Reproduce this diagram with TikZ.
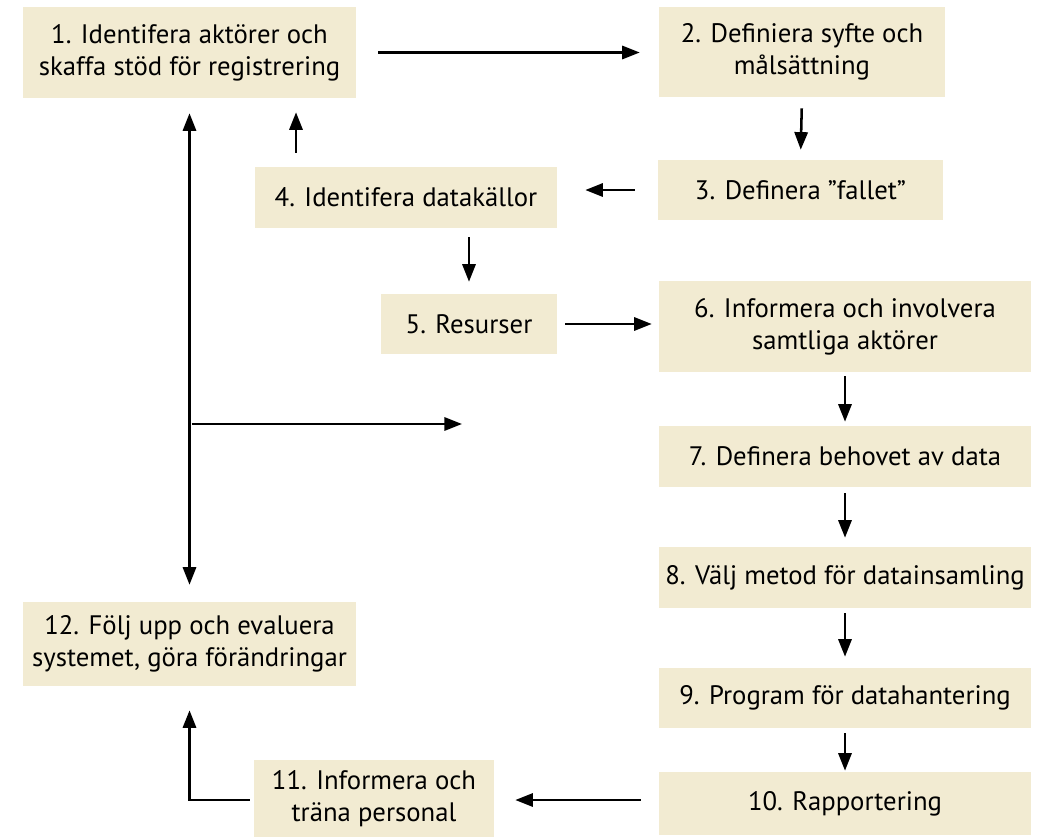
\documentclass[tikz,border=0pt]{standalone}
\usepackage{fontspec}
\setmainfont{PT Sans}
\usetikzlibrary{arrows.meta,calc}
\definecolor{boxfill}{RGB}{242,235,210}

\tikzset{
  box/.style 2 args={fill=boxfill, inner sep=0pt, align=center,
              minimum width=#1*0.025cm, minimum height=#2*0.025cm,
              font=\fontsize{19}{23}\selectfont},
  arr/.style={-{Triangle[length=4.4mm,width=3.3mm]}, line width=1.8pt},
  darr/.style={{Triangle[length=4.4mm,width=3.3mm]}-{Triangle[length=4.4mm,width=3.3mm]}, line width=1.8pt}
}

\begin{document}
\begin{tikzpicture}[x=0.025cm, y=-0.025cm]
  \useasboundingbox (0,0) rectangle (1049,837);

  % left column
  \node[box={333}{91}] (b1) at (189.5,52.5) {1. Identifera aktörer och\\skaffa stöd för registrering};
  \node[box={302}{61}] (b4) at (406,197.5) {4. Identifera datakällor};
  \node[box={176}{60}] (b5) at (469,324) {5. Resurser};
  \node[box={333}{84}] (b12) at (189.5,644) {12. Följ upp och evaluera\\systemet, göra förändringar};
  \node[box={240}{77}] (b11) at (374,798.5) {11. Informera och\\träna personal};

  % right column
  \node[box={286}{90}] (b2) at (802,52) {2. Definiera syfte och\\målsättning};
  \node[box={285}{60}] (b3) at (800.5,190) {3. Definera ”fallet”};
  \node[box={372}{91}] (b6) at (845,326.5) {6. Informera och involvera\\samtliga aktörer};
  \node[box={372}{61}] (b7) at (845,456.5) {7. Definera behovet av data};
  \node[box={372}{61}] (b8) at (845,577.5) {8. Välj metod för datainsamling};
  \node[box={372}{60}] (b9) at (845,698) {9. Program för datahantering};
  \node[box={372}{63}] (b10) at (845,803.5) {10. Rapportering};

  \coordinate (free) at (462,424);

  \draw[arr, shorten <=5.5mm, shorten >=4.75mm] (b1.east) -- (b1.east -| b2.west);
  \draw[arr, shorten <=2.75mm, shorten >=2.5mm] (b2.south) -- (b3.north);
  \draw[arr, shorten <=5.75mm, shorten >=7mm] (b3.west) -- (b3.west -| b4.east);
  \draw[arr, shorten <=3.5mm, shorten >=3.5mm] (b4.north -| 296,0) -- (b1.south -| 296,0);
  \draw[darr, shorten <=3.75mm, shorten >=4.25mm] (b1.south) -- (b12.north);
  \draw[arr, shorten <=0.5mm] (free -| b1.south) -- (free);
  \draw[arr, shorten <=2.25mm, shorten >=3mm] (b5.north |- b4.south) -- (b5.north);
  \draw[arr, shorten <=2mm, shorten >=1.75mm] (b5.east) -- (b5.east -| b6.west);
  \draw[arr, shorten <=1mm, shorten >=1mm] (b6.south) -- (b7.north);
  \draw[arr, shorten <=1.5mm, shorten >=2.25mm] (b7.south) -- (b8.north);
  \draw[arr, shorten <=1.25mm, shorten >=2.75mm] (b8.south) -- (b9.north);
  \draw[arr, shorten <=1.25mm, shorten >=0.25mm] (b9.south) -- (b10.north);
  \draw[arr, shorten <=4.5mm, shorten >=5.25mm] (b10.west |- 0,800) -- (b11.east |- 0,800);
  \draw[arr, shorten <=1mm, shorten >=6mm] (b11.west |- 0,800) -| (b12.south);
\end{tikzpicture}
\end{document}
